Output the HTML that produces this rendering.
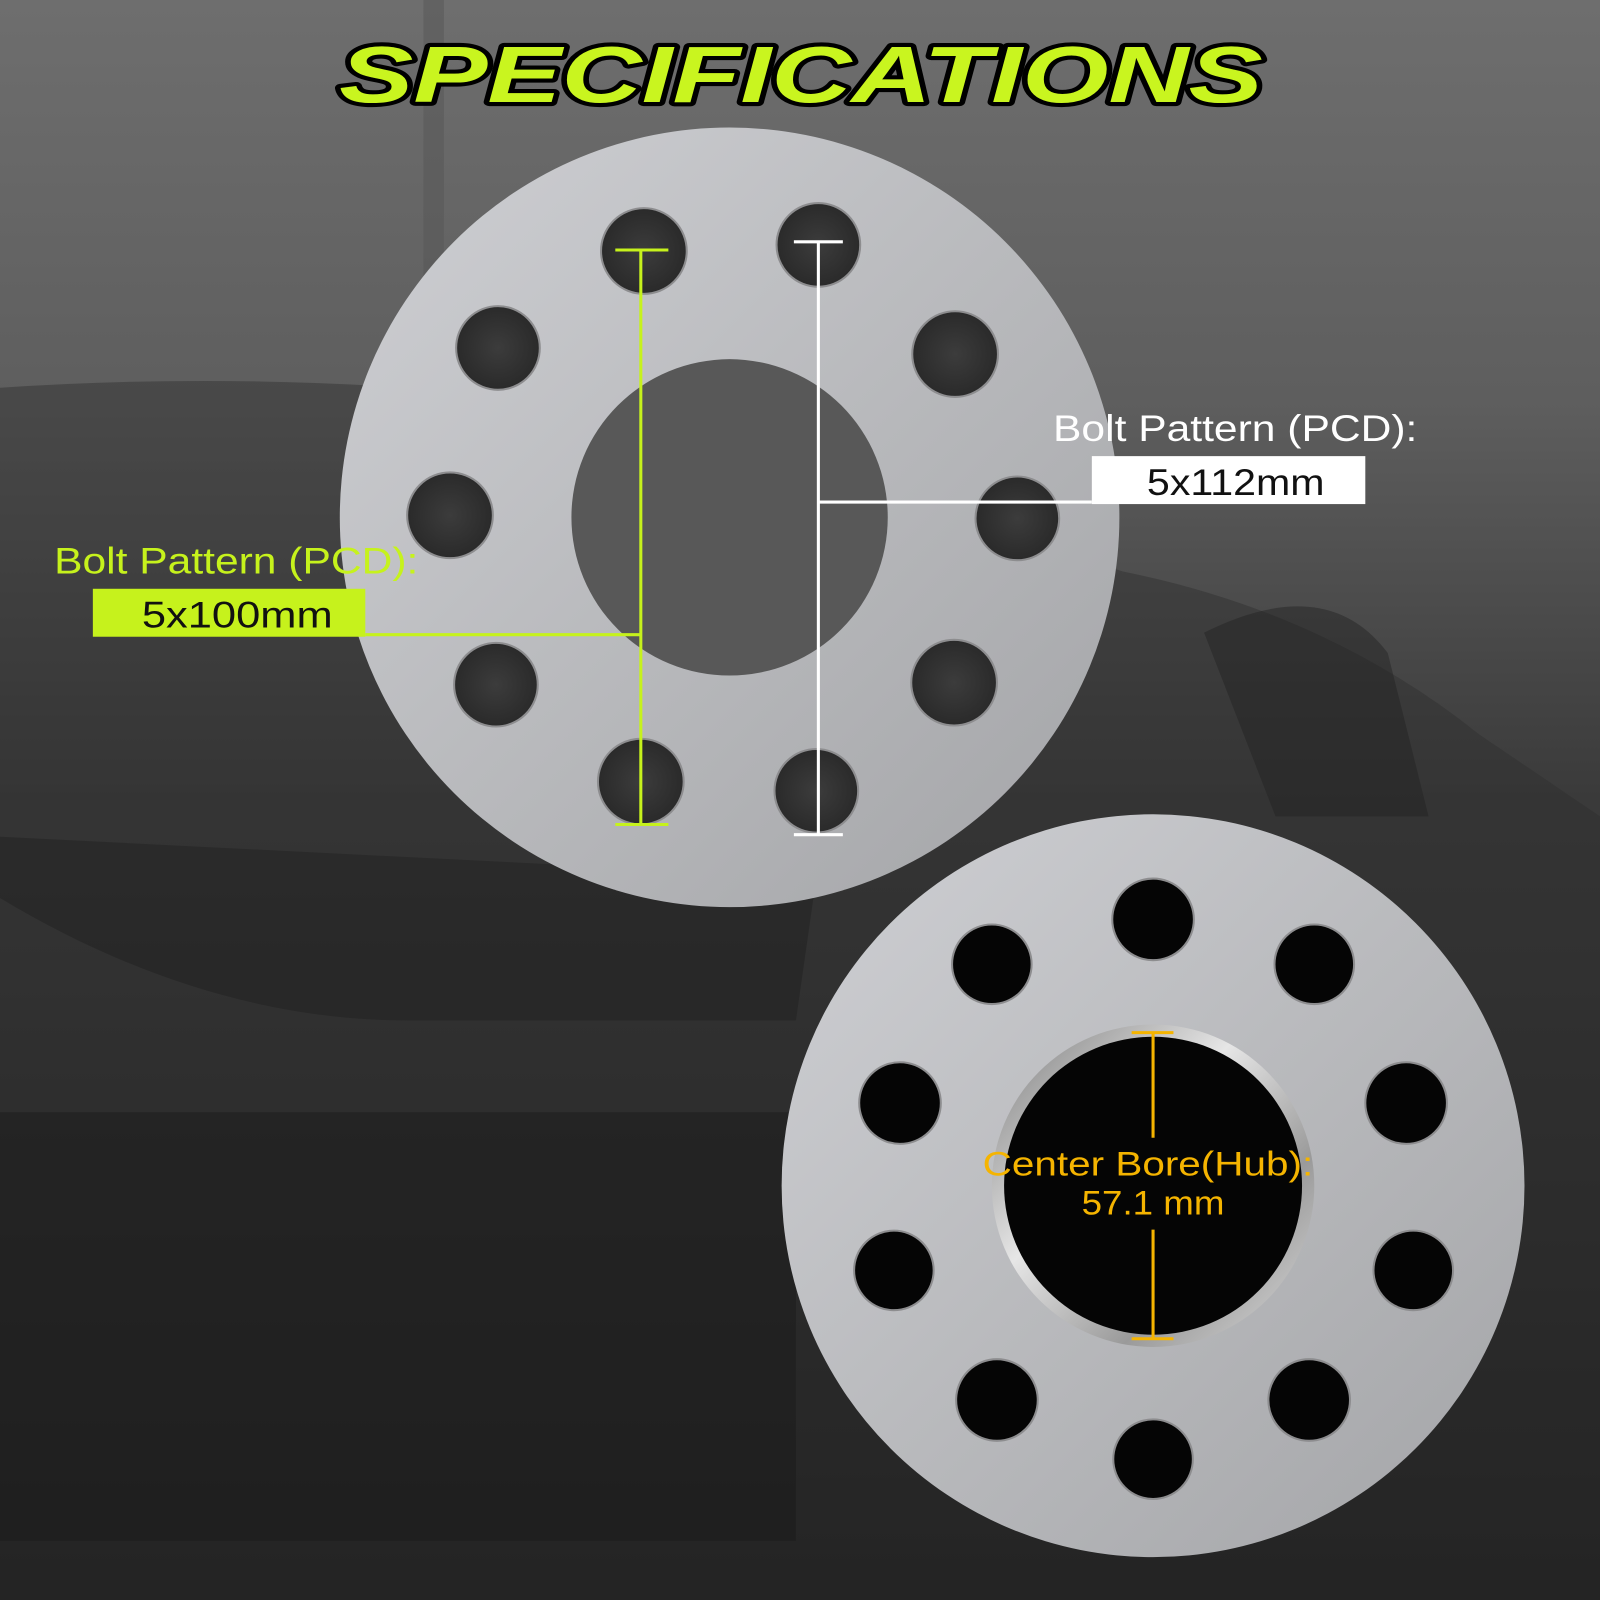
<!DOCTYPE html>
<html><head><meta charset="utf-8"><style>
html,body{margin:0;padding:0;background:#333;}
svg{display:block;}
</style></head><body>
<svg width="1600" height="1600" viewBox="0 0 1568 1568" xmlns="http://www.w3.org/2000/svg">
<defs>
<linearGradient id="bg" x1="0" y1="0" x2="0" y2="1">
<stop offset="0" stop-color="#6e6e6e"/><stop offset="0.25" stop-color="#5e5e5e"/><stop offset="0.5" stop-color="#3a3a3a"/><stop offset="1" stop-color="#1c1c1c"/>
</linearGradient>
<linearGradient id="disc" x1="0" y1="0" x2="1" y2="1">
<stop offset="0" stop-color="#cfd0d4"/><stop offset="0.5" stop-color="#b9babd"/><stop offset="1" stop-color="#a3a4a7"/>
</linearGradient>
<linearGradient id="ring" x1="0" y1="0" x2="1" y2="1">
<stop offset="0" stop-color="#7a7a7a"/><stop offset="0.4" stop-color="#e6e6e6"/><stop offset="0.7" stop-color="#9a9a9a"/><stop offset="1" stop-color="#dcdcdc"/>
</linearGradient>
<radialGradient id="holeTop" cx="0.5" cy="0.5" r="0.5">
<stop offset="0" stop-color="#3c3c3c"/><stop offset="1" stop-color="#2a2a2a"/>
</radialGradient>
</defs>
<rect width="1568" height="1568" fill="url(#bg)"/>
<rect x="415" y="0" width="20" height="380" fill="#555" opacity="0.5"/>
<path d="M0 380 Q300 360 600 400 L1100 560 Q1300 600 1450 720 L1568 800 L1568 1568 L0 1568 Z" fill="#2e2e2e" opacity="0.45"/>
<path d="M0 880 Q200 1000 400 1000 L780 1000 L800 860 L0 820 Z" fill="#1e1e1e" opacity="0.45"/>
<rect x="0" y="1090" width="780" height="420" fill="#181818" opacity="0.45"/>
<path d="M1180 620 Q1300 560 1360 640 L1400 800 L1250 800 Z" fill="#222" opacity="0.45"/>

<text x="785" y="100" text-anchor="middle" font-family="Liberation Sans, sans-serif" font-weight="bold" font-style="italic" font-size="78" textLength="905" lengthAdjust="spacingAndGlyphs" fill="#c9f51f" stroke="#000" stroke-width="8" paint-order="stroke" stroke-linejoin="round">SPECIFICATIONS</text>

<circle cx="715" cy="507" r="382" fill="url(#disc)"/>
<circle cx="715" cy="507" r="155" fill="#585858"/>
<g fill="url(#holeTop)" stroke="#8d8d8f" stroke-width="2">
<circle cx="631" cy="246" r="42"/><circle cx="802" cy="240" r="41"/>
<circle cx="488" cy="341" r="41"/><circle cx="936" cy="347" r="42"/>
<circle cx="441" cy="505" r="42"/><circle cx="997" cy="508" r="41"/>
<circle cx="486" cy="671" r="41"/><circle cx="935" cy="669" r="42"/>
<circle cx="628" cy="766" r="42"/><circle cx="800" cy="775" r="41"/>
</g>

<g stroke="#c6f21c" stroke-width="3" fill="none">
<line x1="628" y1="245" x2="628" y2="808"/>
<line x1="603" y1="245" x2="655" y2="245"/>
<line x1="603" y1="808" x2="655" y2="808"/>
<line x1="358" y1="622" x2="628" y2="622"/>
</g>
<rect x="91" y="577" width="267" height="47" fill="#c6f21c"/>
<text x="139" y="615" font-family="Liberation Sans, sans-serif" font-size="36" fill="#111" textLength="187" lengthAdjust="spacingAndGlyphs">5x100mm</text>
<text x="53" y="562" font-family="Liberation Sans, sans-serif" font-size="36" fill="#c6f21c" textLength="357" lengthAdjust="spacingAndGlyphs">Bolt Pattern (PCD):</text>

<g stroke="#fff" stroke-width="3" fill="none">
<line x1="802" y1="237" x2="802" y2="818"/>
<line x1="778" y1="237" x2="826" y2="237"/>
<line x1="778" y1="818" x2="826" y2="818"/>
<line x1="802" y1="492" x2="1070" y2="492"/>
</g>
<rect x="1070" y="447" width="268" height="47" fill="#fff"/>
<text x="1124" y="485" font-family="Liberation Sans, sans-serif" font-size="36" fill="#111" textLength="174" lengthAdjust="spacingAndGlyphs">5x112mm</text>
<text x="1032" y="432" font-family="Liberation Sans, sans-serif" font-size="36" fill="#fff" textLength="357" lengthAdjust="spacingAndGlyphs">Bolt Pattern (PCD):</text>

<circle cx="1130" cy="1162" r="364" fill="url(#disc)"/>
<circle cx="1130" cy="1162" r="158" fill="url(#ring)"/>
<circle cx="1130" cy="1162" r="146" fill="#050505"/>
<g fill="#050505" stroke="#8d8d8f" stroke-width="2">
<circle cx="1130" cy="901" r="40"/><circle cx="972" cy="945" r="39"/><circle cx="1288" cy="945" r="39"/>
<circle cx="882" cy="1081" r="40"/><circle cx="1378" cy="1081" r="40"/>
<circle cx="876" cy="1245" r="39"/><circle cx="1385" cy="1245" r="39"/>
<circle cx="977" cy="1372" r="40"/><circle cx="1283" cy="1372" r="40"/>
<circle cx="1130" cy="1430" r="39"/>
</g>
<g stroke="#f5b400" stroke-width="3">
<line x1="1130" y1="1012" x2="1130" y2="1115"/>
<line x1="1130" y1="1205" x2="1130" y2="1312"/>
<line x1="1109" y1="1012" x2="1150" y2="1012"/>
<line x1="1109" y1="1312" x2="1150" y2="1312"/>
</g>
<text x="963" y="1152" font-family="Liberation Sans, sans-serif" font-size="34" fill="#f5b400" textLength="324" lengthAdjust="spacingAndGlyphs">Center Bore(Hub):</text>
<text x="1130" y="1190" text-anchor="middle" font-family="Liberation Sans, sans-serif" font-size="34" fill="#f5b400" textLength="140" lengthAdjust="spacingAndGlyphs">57.1 mm</text>
</svg>
</body></html>
